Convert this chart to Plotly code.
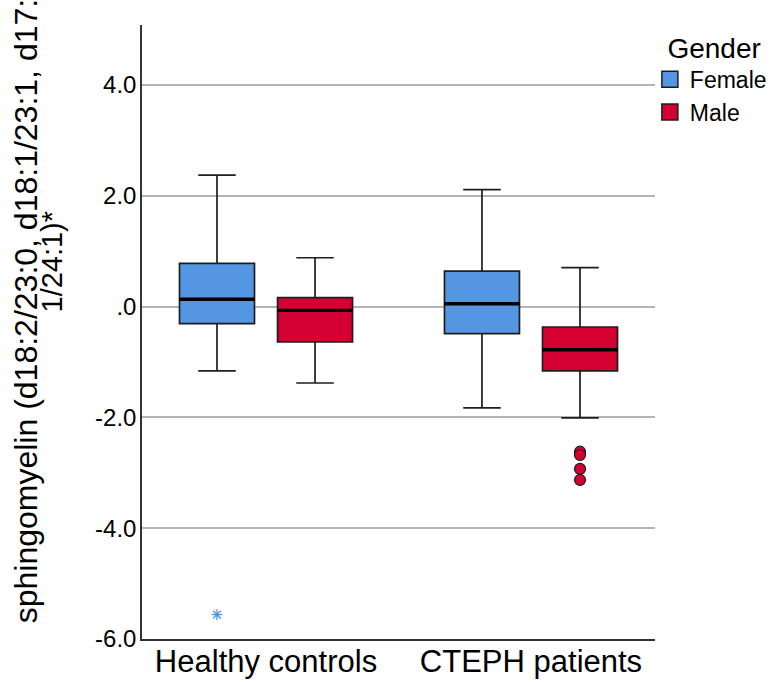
import plotly.graph_objects as go

# ---- data ----
categories = ["Healthy controls", "CTEPH patients"]
genders = ["Female", "Male"]

female_lower = [-1.16, -1.83]
female_q1 = [-0.31, -0.49]
female_median = [0.13, 0.05]
female_q3 = [0.78, 0.64]
female_upper = [2.37, 2.11]

male_lower = [-1.38, -2.01]
male_q1 = [-0.64, -1.16]
male_median = [-0.07, -0.78]
male_q3 = [0.16, -0.37]
male_upper = [0.88, 0.70]

# outliers: (category index, value)
female_extreme_cat = [0]
female_extreme_val = [-5.56]
male_outlier_cat = [1, 1, 1, 1]
male_outlier_val = [-2.62, -2.68, -2.93, -3.13]

y_tickvals = [-6, -4, -2, 0, 2, 4]
y_ticktext = ["-6.0", "-4.0", "-2.0", ".0", "2.0", "4.0"]

# ---- styles ----
BLUE = "#5596E3"
RED = "#D50032"
EDGE = "#1e1e1e"
OFFSET = 0.185
BOXW = 0.283
FONT = "Liberation Sans, Arial, sans-serif"

fig = go.Figure()

series = [
    ("Female", -OFFSET, BLUE, female_lower, female_q1, female_median, female_q3, female_upper),
    ("Male", OFFSET, RED, male_lower, male_q1, male_median, male_q3, male_upper),
]
for name, off, col, lo, q1, med, q3, up in series:
    xpos = [i + off for i in range(len(categories))]
    fig.add_trace(go.Box(
        x=xpos, lowerfence=lo, q1=q1, median=med, q3=q3, upperfence=up,
        width=BOXW, whiskerwidth=0.5, fillcolor=col,
        line=dict(color=EDGE, width=1.7), boxpoints=False,
        showlegend=False, name=name, hoverinfo="skip",
    ))
    # thicker median line
    fig.add_trace(go.Box(
        x=xpos, lowerfence=med, q1=med, median=med, q3=med, upperfence=med,
        width=BOXW, whiskerwidth=0, fillcolor="rgba(0,0,0,0)",
        line=dict(color="#000000", width=3.4), boxpoints=False,
        showlegend=False, name=name, hoverinfo="skip",
    ))

fig.add_trace(go.Scatter(
    x=[c - OFFSET for c in female_extreme_cat], y=female_extreme_val,
    mode="markers", showlegend=False,
    marker=dict(symbol="asterisk-open", size=9, color=BLUE, line=dict(color=BLUE, width=1.3)),
))
fig.add_trace(go.Scatter(
    x=[c + OFFSET for c in male_outlier_cat], y=male_outlier_val,
    mode="markers", showlegend=False,
    marker=dict(symbol="circle", size=11, color=RED, line=dict(color=EDGE, width=1.2)),
))

# legend entries
for name, col in zip(genders, [BLUE, RED]):
    fig.add_trace(go.Scatter(
        x=[None], y=[None], mode="markers", name=name,
        marker=dict(symbol="square", size=16, color=col, line=dict(color=EDGE, width=1.5)),
    ))

# y-axis title (two lines as in the reference)
fig.add_annotation(
    text="sphingomyelin (d18:2/23:0, d18:1/23:1, d17:", textangle=-90,
    xref="paper", yref="paper", x=-0.227, y=0.533, xanchor="center", yanchor="middle",
    showarrow=False, font=dict(family=FONT, size=32, color="#000"),
)
fig.add_annotation(
    text="1/24:1)*", textangle=-90,
    xref="paper", yref="paper", x=-0.1745, y=0.6156, xanchor="center", yanchor="middle",
    showarrow=False, font=dict(family=FONT, size=29, color="#000"),
)

fig.update_layout(
    width=773, height=682,
    margin=dict(l=142, r=118, t=25, b=43, autoexpand=False),
    paper_bgcolor="white", plot_bgcolor="white",
    font=dict(family=FONT, color="#000"),
    showlegend=True,
    legend=dict(
        title=dict(text="&nbsp;&nbsp;Gender", font=dict(size=28, family=FONT)),
        font=dict(size=23, family=FONT),
        x=0.99, y=1.006, xanchor="left", yanchor="top",
        itemsizing="trace", tracegroupgap=0, bgcolor="rgba(0,0,0,0)",
    ),
    xaxis=dict(
        range=[-0.468, 1.468], tickvals=list(range(len(categories))), ticktext=categories,
        showgrid=False, zeroline=False, showline=True, linecolor="#333", linewidth=1.5,
        ticks="", tickfont=dict(size=31, family=FONT, color="#000"), ticklabelstandoff=-6,
        automargin=False, fixedrange=True,
    ),
    yaxis=dict(
        range=[-6.0, 5.08], tickvals=y_tickvals, ticktext=y_ticktext,
        showgrid=True, gridcolor="#b4b4b4", gridwidth=1.5, zeroline=False,
        showline=True, linecolor="#333", linewidth=1.5,
        ticks="", tickfont=dict(size=24, family=FONT, color="#000"), ticklabelstandoff=-1,
        automargin=False, fixedrange=True,
    ),
)

fig.write_html(
    "out.html",
    config={"displayModeBar": False},
    post_script="document.body.style.margin='0';document.body.style.overflow='hidden';",
)
